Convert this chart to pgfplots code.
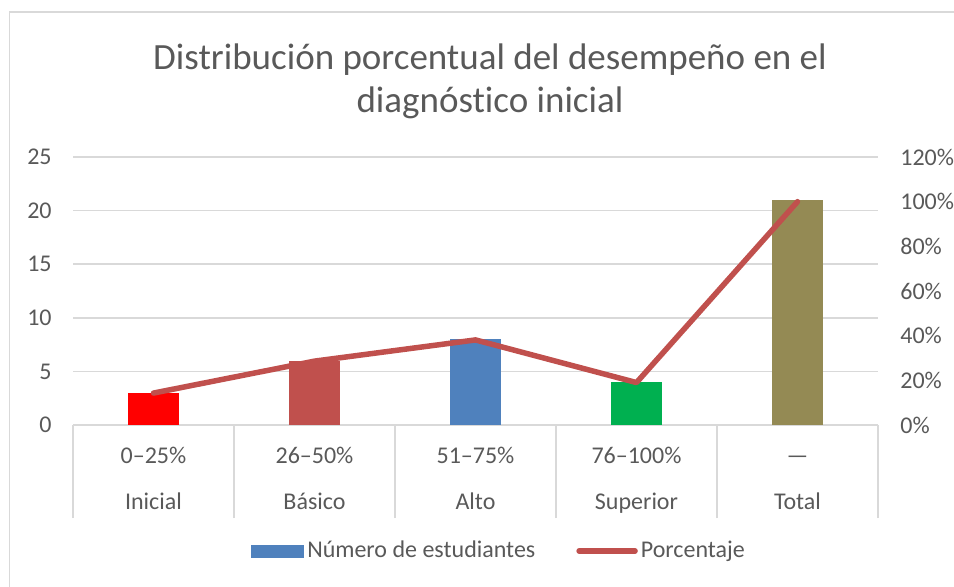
\documentclass[border=0pt]{standalone}
\usepackage{pgfplots}
\pgfplotsset{compat=1.18}
\usepackage{fontspec}
\setmainfont{Carlito}[Ligatures=NoCommon]

\definecolor{txt}{HTML}{595959}
\definecolor{gridgray}{HTML}{D9D9D9}
\definecolor{cRed}{HTML}{FF0000}
\definecolor{cBrick}{HTML}{C0504D}
\definecolor{cBlue}{HTML}{4F81BD}
\definecolor{cGreen}{HTML}{00B050}
\definecolor{cOlive}{HTML}{948A54}

\begin{document}
\begin{tikzpicture}
\useasboundingbox (0,0) rectangle (477pt,293pt);
% chart frame (only left and top edges are inside the picture)
\draw[gridgray, line width=0.75pt] (4.75pt,-5pt) -- (4.75pt,287pt) -- (490pt,287pt);

% title
\node[anchor=base, text=txt, font=\fontsize{18.5}{22}\selectfont] at (245pt,258.5pt)
  {Distribución porcentual del desempeño en el};
\node[anchor=base, text=txt, font=\fontsize{18.5}{22}\selectfont] at (245pt,237pt)
  {diagnóstico inicial};

% bars, left axis
\begin{axis}[
  at={(36.5pt,80.5pt)}, anchor=south west,
  scale only axis, width=402.5pt, height=134pt,
  xmin=-0.5, xmax=4.5, ymin=0, ymax=25,
  axis line style={draw=none},
  ytick={0,5,10,15,20,25},
  yticklabels={0,5,10,15,20,25},
  ymajorgrids, grid style={gridgray, line width=0.75pt},
  xtick={0,1,2,3,4},
  xticklabels={{0–25\%\\Inicial},{26–50\%\\Básico},{51–75\%\\Alto},{76–100\%\\Superior},{\vphantom{0–25\%}—\\Total}},
  minor xtick={-0.5,0.5,1.5,2.5,3.5,4.5},
  xtick pos=bottom, tick align=outside,
  major tick length=0pt, minor tick length=46.5pt,
  minor tick style={gridgray, line width=0.75pt},
  ytick style={draw=none},
  yticklabel style={text=txt, font=\fontsize{12}{14}\selectfont, inner sep=0pt, anchor=east, xshift=-10.5pt},
  xticklabel style={text=txt, font=\fontsize{12}{23}\selectfont, align=center, inner sep=0pt, anchor=north, yshift=-11pt},
]
\addplot[ybar, bar width=25.5pt, bar shift=0pt, fill=cRed, draw=none] coordinates {(0,3)};
\addplot[ybar, bar width=25.5pt, bar shift=0pt, fill=cBrick, draw=none] coordinates {(1,6)};
\addplot[ybar, bar width=25.5pt, bar shift=0pt, fill=cBlue, draw=none] coordinates {(2,8)};
\addplot[ybar, bar width=25.5pt, bar shift=0pt, fill=cGreen, draw=none] coordinates {(3,4)};
\addplot[ybar, bar width=25.5pt, bar shift=0pt, fill=cOlive, draw=none] coordinates {(4,21)};
\end{axis}

% percentage line, right axis
\begin{axis}[
  at={(36.5pt,80.5pt)}, anchor=south west,
  scale only axis, width=402.5pt, height=134pt,
  xmin=-0.5, xmax=4.5, ymin=0, ymax=120,
  axis line style={draw=none},
  xtick=\empty,
  ytick={0,20,40,60,80,100,120},
  yticklabels={0\%,20\%,40\%,60\%,80\%,100\%,120\%},
  yticklabel pos=right,
  ytick style={draw=none},
  yticklabel style={text=txt, font=\fontsize{12}{14}\selectfont, inner sep=0pt, anchor=west, xshift=11pt},
  legend style={at={(0.530,-0.470)}, anchor=center, draw=none, fill=none,
    legend columns=2, font=\fontsize{12}{14}\selectfont, text=txt,
    /tikz/every even column/.append style={column sep=19pt},
    nodes={inner sep=1.5pt}},
  legend cell align=left,
]
\addlegendimage{legend image code/.code={\fill[cBlue] (0pt,-3pt) rectangle (26pt,3pt);}}
\addlegendentry{Número de estudiantes}
\addplot[cBrick, line width=2.75pt, line join=round, line cap=round, mark=none,
  legend image code/.code={\draw[cBrick, line width=2.75pt, line cap=round] (0pt,0pt) -- (28pt,0pt);}]
  coordinates {(0,14.3) (1,28.6) (2,38.1) (3,19.0) (4,100)};
\addlegendentry{Porcentaje}
\end{axis}
\end{tikzpicture}
\end{document}
